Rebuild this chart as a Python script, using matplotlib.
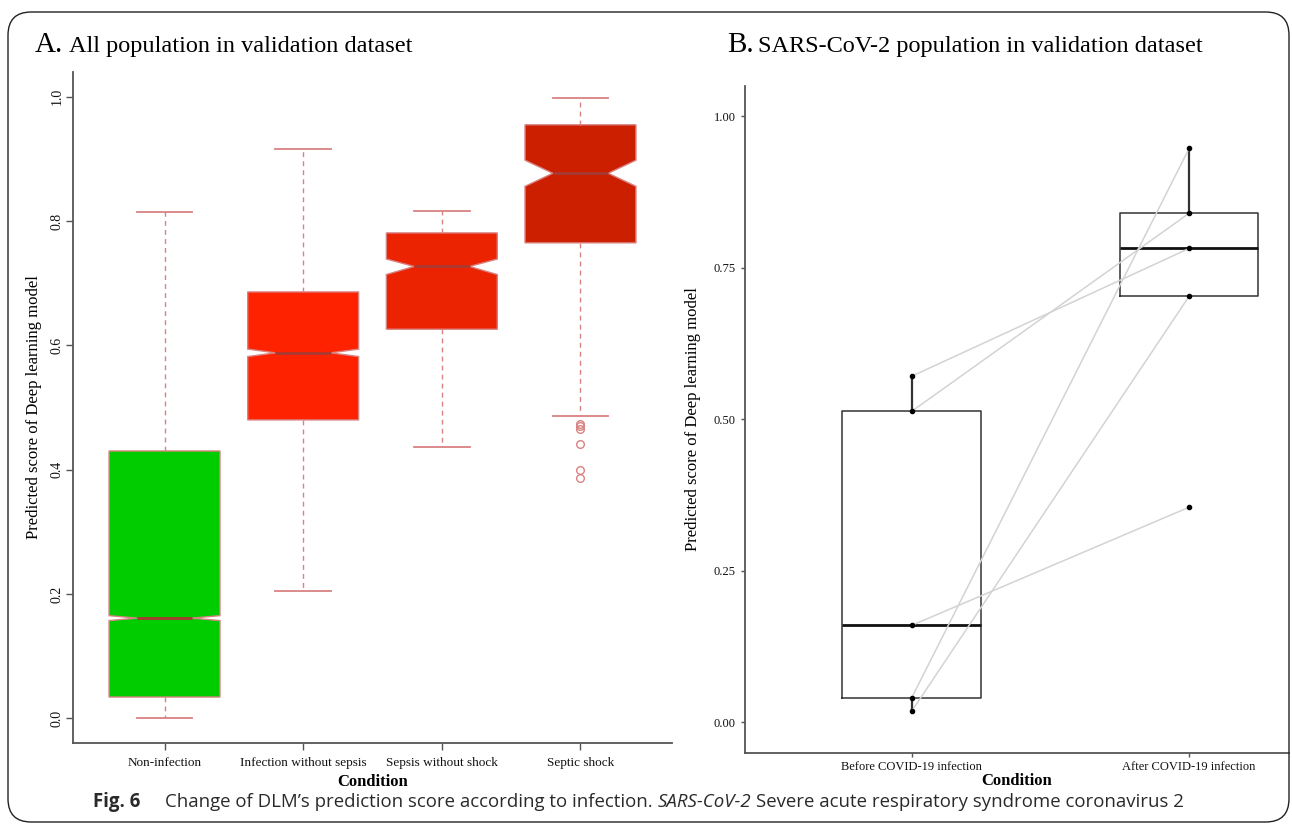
import matplotlib
matplotlib.use("Agg")
import matplotlib.pyplot as plt
from matplotlib import font_manager
from matplotlib.patches import FancyBboxPatch

# ---- Panel A: summary statistics of the DLM score per condition ----
conditions = ["Non-infection", "Infection without sepsis", "Sepsis without shock", "Septic shock"]
medians = [0.161, 0.588, 0.727, 0.877]
q1_vals = [0.034, 0.480, 0.626, 0.765]
q3_vals = [0.430, 0.686, 0.781, 0.955]
whisker_low = [0.000, 0.205, 0.436, 0.486]
whisker_high = [0.814, 0.916, 0.816, 0.998]
notch_low = [0.157, 0.582, 0.714, 0.856]
notch_high = [0.165, 0.594, 0.739, 0.898]
outliers = [[], [], [], [0.474, 0.471, 0.465, 0.442, 0.399, 0.386]]
box_colors = ["#00CC00", "#FF2200", "#EB2300", "#CC1F00"]

# ---- Panel B: paired scores of SARS-CoV-2 patients ----
stages = ["Before COVID-19 infection", "After COVID-19 infection"]
score_before = [0.571, 0.513, 0.160, 0.040, 0.018]
score_after = [0.782, 0.840, 0.355, 0.947, 0.703]

SERIF = "Liberation Serif"
available = {f.name for f in font_manager.fontManager.ttflist}
CAPTION_FONT = "Liberation Sans Narrow" if "Liberation Sans Narrow" in available else "Open Sans"

W, H = 1292, 825
fig = plt.figure(figsize=(W / 100, H / 100), dpi=100)
fig.patch.set_facecolor("white")


def px_axes(x0, y0, x1, y1):
    """Axes placed by pixel box (left, top, right, bottom)."""
    return fig.add_axes([x0 / W, 1 - y1 / H, (x1 - x0) / W, (y1 - y0) / H])


# outer rounded frame
frame = FancyBboxPatch((8 / W, 3 / H), (1289 - 8) / W, (813 - 3) / H,
                       boxstyle="round,pad=0,rounding_size=0.018",
                       transform=fig.transFigure, fill=False,
                       edgecolor="#222222", linewidth=1.0, mutation_aspect=W / H)
fig.patches.append(frame)

# ================= Panel A =================
axA = px_axes(73, 72, 672, 743)
border = "#D98282"
stats = []
for i in range(len(conditions)):
    stats.append(dict(med=medians[i], q1=q1_vals[i], q3=q3_vals[i],
                      whislo=whisker_low[i], whishi=whisker_high[i],
                      cilo=notch_low[i], cihi=notch_high[i],
                      fliers=outliers[i], label=conditions[i]))
bp = axA.bxp(stats, positions=[1, 2, 3, 4], widths=0.8, shownotches=True,
             patch_artist=True,
             boxprops=dict(edgecolor=border, linewidth=1.0),
             whiskerprops=dict(color=border, linewidth=1.0, linestyle=(0, (3.5, 3))),
             capprops=dict(color=border, linewidth=1.3),
             medianprops=dict(color="#A83A32", linewidth=2.0),
             flierprops=dict(marker="o", markerfacecolor="none",
                             markeredgecolor=border, markersize=5.5, markeredgewidth=1.0))
for patch, c in zip(bp["boxes"], box_colors):
    patch.set_facecolor(c)

axA.set_xlim(0.34, 4.66)
axA.set_ylim(-0.04, 1.04)
for s in ["top", "right"]:
    axA.spines[s].set_visible(False)
for s in ["left", "bottom"]:
    axA.spines[s].set_color("#555555")
    axA.spines[s].set_linewidth(1.3)
axA.set_yticks([0.0, 0.2, 0.4, 0.6, 0.8, 1.0])
axA.set_yticklabels(["0.0", "0.2", "0.4", "0.6", "0.8", "1.0"], rotation=90,
                    va="center", family=SERIF, fontsize=10)
axA.set_xticks([1, 2, 3, 4])
axA.set_xticklabels(conditions, family=SERIF, fontsize=9.5)
axA.tick_params(axis="both", direction="out", length=5, width=1, color="#555555",
                labelcolor="#111111")
axA.tick_params(axis="x", pad=5)
axA.tick_params(axis="y", pad=2)
axA.set_ylabel("Predicted score of Deep learning model", family=SERIF, fontsize=12, labelpad=6)
axA.set_xlabel("Condition", family=SERIF, fontsize=12, fontweight="bold", labelpad=4)

fig.text(35 / W, 1 - 52 / H, "A.", family=SERIF, fontsize=21, va="baseline")
fig.text(69 / W, 1 - 52 / H, "All population in validation dataset", family=SERIF,
         fontsize=17.5, va="baseline")

# ================= Panel B =================
axB = px_axes(745, 86, 1289, 752.7)
axB.boxplot([score_before, score_after], positions=[1, 2], widths=0.5,
            showfliers=False, showcaps=False, whis=1.5,
            boxprops=dict(color="#333333", linewidth=1.1),
            whiskerprops=dict(color="#333333", linewidth=1.6),
            medianprops=dict(color="#111111", linewidth=2.0))
for b, a in zip(score_before, score_after):
    axB.plot([1, 2], [b, a], color="#D3D3D3", linewidth=1.1, zorder=3)
axB.scatter([1] * len(score_before), score_before, s=9, color="black", zorder=4)
axB.scatter([2] * len(score_after), score_after, s=9, color="black", zorder=4)

axB.set_xlim(0.4, 2.36)
axB.set_ylim(-0.05, 1.05)
for s in ["top", "right"]:
    axB.spines[s].set_visible(False)
for s in ["left", "bottom"]:
    axB.spines[s].set_color("#555555")
    axB.spines[s].set_linewidth(1.3)
axB.set_yticks([0.0, 0.25, 0.5, 0.75, 1.0])
axB.set_yticklabels(["0.00", "0.25", "0.50", "0.75", "1.00"], family=SERIF, fontsize=9)
axB.set_xticks([1, 2])
axB.set_xticklabels(stages, family=SERIF, fontsize=9)
axB.tick_params(axis="both", direction="out", length=3, width=1, color="#555555",
                labelcolor="#111111")
axB.tick_params(axis="x", pad=3)
axB.set_ylabel("Predicted score of Deep learning model", family=SERIF, fontsize=12, labelpad=9)
axB.set_xlabel("Condition", family=SERIF, fontsize=12, fontweight="bold", labelpad=0)

fig.text(727 / W, 1 - 52 / H, "B.", family=SERIF, fontsize=21, va="baseline")
fig.text(758 / W, 1 - 52 / H, "SARS-CoV-2 population in validation dataset", family=SERIF,
         fontsize=17.5, va="baseline")

# ================= Caption =================
fig.canvas.draw()
renderer = fig.canvas.get_renderer()
pieces = [("Fig. 6", "bold", "normal", 25),
          ("Change of DLM\u2019s prediction score according to infection. ", "normal", "normal", 0),
          ("SARS-CoV-2", "normal", "italic", 5),
          ("Severe acute respiratory syndrome coronavirus 2", "normal", "normal", 0)]
x = 93
for txt, weight, style, gap in pieces:
    t = fig.text(x / W, 1 - 807 / H, txt, family=CAPTION_FONT, fontsize=13.4,
                 fontweight=weight, fontstyle=style, va="baseline", color="#2A2A2A")
    bb = t.get_window_extent(renderer)
    x += bb.width + gap

fig.savefig("out.png", dpi=100, facecolor="white")
